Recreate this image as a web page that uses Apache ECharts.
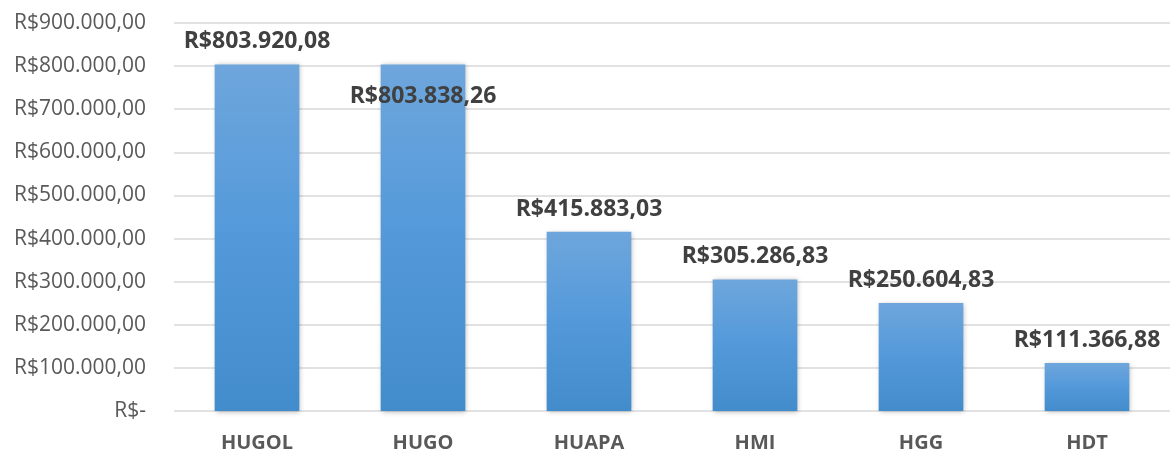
<!DOCTYPE html>
<html>
<head>
<meta charset="utf-8">
<script src="https://cdn.jsdelivr.net/npm/echarts@6/dist/echarts.min.js"></script>
<style>
  html, body { margin: 0; padding: 0; background: #fff; }
  #chart { width: 1172px; height: 453px; }
</style>
</head>
<body>
<div id="chart"></div>
<script>
const FONT = '"Open Sans", "Noto Sans", sans-serif';

const units = ["HUGOL", "HUGO", "HUAPA", "HMI", "HGG", "HDT"];
const totals = [803920.08, 803838.26, 415883.03, 305286.83, 250604.83, 111366.88];
// Excel placed the HUGO label inside its bar (it would collide with HUGOL's)
const labelShift = [0, 54, 0, 0, 0, 0];

// pt-BR currency, e.g. R$803.920,08
function brl(v, dec) {
  if (v === 0) return "R$-";
  const [i, d] = v.toFixed(dec).split(".");
  return "R$" + i.replace(/\B(?=(\d{3})+(?!\d))/g, ".") + "," + d;
}

const chart = echarts.init(document.getElementById("chart"), null, { renderer: "canvas" });

chart.setOption({
  backgroundColor: "#fff",
  animation: false,
  grid: { left: 174, right: 2, top: 23, bottom: 42 },
  xAxis: {
    type: "category",
    data: units,
    axisLine: { show: false },
    axisTick: { show: false },
    axisLabel: {
      color: "#595959",
      fontSize: 20,
      fontWeight: "bold",
      fontFamily: FONT,
      margin: 22,
    },
  },
  yAxis: {
    type: "value",
    min: 0,
    max: 900000,
    interval: 100000,
    axisLine: { show: false },
    axisTick: { show: false },
    axisLabel: {
      color: "#595959",
      fontSize: 21,
      fontFamily: FONT,
      margin: 28,
      formatter: (v) => brl(v, 2),
    },
    splitLine: { lineStyle: { color: "#d9d9d9", width: 1.5 } },
  },
  series: [
    {
      type: "bar",
      barWidth: "51%",
      data: totals.map((v, i) => ({
        value: v,
        label: { offset: [0, labelShift[i]] },
      })),
      itemStyle: {
        color: new echarts.graphic.LinearGradient(0, 0, 0, 1, [
          { offset: 0, color: "#6ea6dc" },
          { offset: 0.5, color: "#5399da" },
          { offset: 1, color: "#438ccb" },
        ]),
        shadowColor: "rgba(0,0,0,0.28)",
        shadowBlur: 5,
        shadowOffsetX: 1,
        shadowOffsetY: 1,
      },
      label: {
        show: true,
        position: "top",
        distance: 11,
        color: "#404040",
        fontSize: 23,
        fontWeight: "bold",
        fontFamily: FONT,
        formatter: (p) => brl(p.value, 2),
      },
    },
  ],
});
</script>
</body>
</html>
